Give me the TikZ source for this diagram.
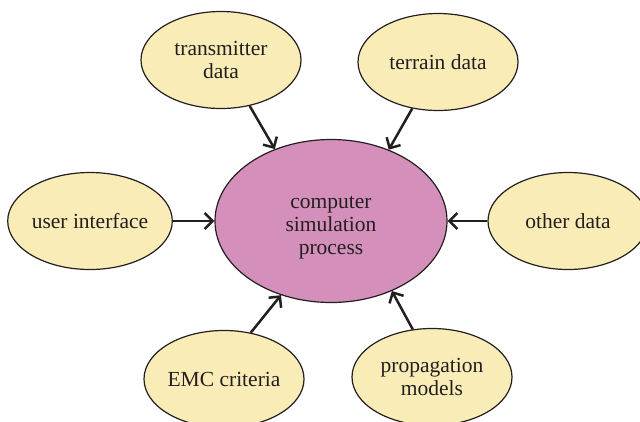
\documentclass[tikz,border=0pt]{standalone}
\usepackage{fontspec}
\setmainfont{Liberation Serif}
\usetikzlibrary{shapes.geometric,arrows.meta}
\definecolor{bubble}{RGB}{250,236,182}
\definecolor{core}{RGB}{212,143,186}
\definecolor{ink}{RGB}{35,31,32}
\tikzset{
  lbl/.style={align=center,text=ink,font=\fontsize{21.5}{23}\selectfont},
  bub/.style={ellipse,draw=ink,line width=1.2pt,fill=bubble,inner sep=0pt,
    minimum width=160pt,minimum height=97pt,lbl},
  hub/.style={ellipse,draw=ink,line width=1.2pt,fill=core,inner sep=0pt,
    minimum width=232pt,minimum height=163pt},
  link/.style={draw=ink,line width=2.5pt,-{Straight Barb[length=8pt,width=16pt,line width=2.5pt]}}
}
\begin{document}
\begin{tikzpicture}[x=1pt,y=-1pt]
\useasboundingbox (0,0) rectangle (640,421);
\clip (0,0) rectangle (640,421);
\node[hub] (c) at (331,221) {};
\node[lbl] (ct) at ([yshift=-7pt]c.center) {computer\\simulation\\process};
\node[bub] (tx) at (221,60) {transmitter\\data};
\node[bub] (tr) at (438,62) {terrain data};
\node[bub] (ui) at (90,221) {user interface};
\node[bub] (od) at (568,221) {other data};
\node[bub] (emc) at (224,379) {EMC criteria};
\node[bub] (pm) at (432,377) {propagation\\models};
\draw[link] (tx.-58) -- (c.128);
\draw[link] (tr.-119) -- (c.51);
\draw[link] (ui.east) -- (c.west);
\draw[link] (od.west) -- (c.east);
\draw[link] (emc.60) -- (c.-124);
\draw[link] (pm.112) -- (c.-49);
\end{tikzpicture}
\end{document}
